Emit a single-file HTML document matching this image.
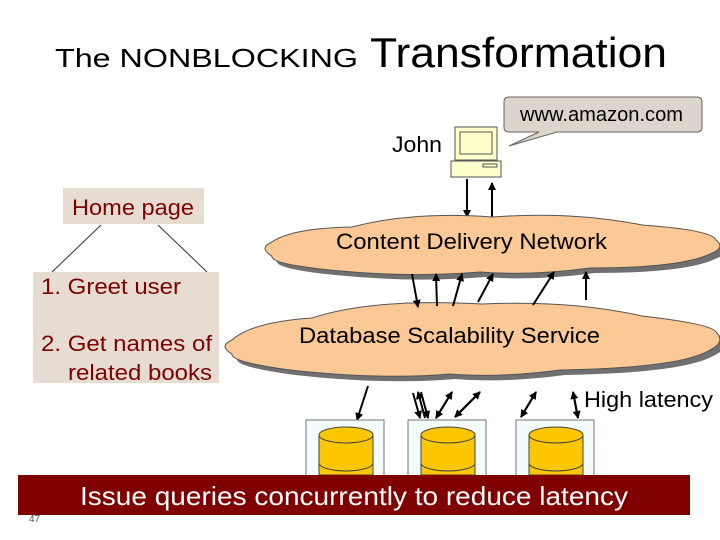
<!DOCTYPE html><html><head><meta charset="utf-8"><style>body{margin:0;background:#fff}svg{display:block;font-family:"Liberation Sans",sans-serif}</style></head><body>
<svg width="720" height="540" viewBox="0 0 720 540">
<defs><marker id="a" markerWidth="8" markerHeight="8" refX="7" refY="4" orient="auto" markerUnits="userSpaceOnUse"><path d="M0,0L8,4L0,8z" fill="#000"/></marker>
<g id="cyl"><rect x="0" y="0" width="78" height="60" fill="#f4fbfd" stroke="#777"/><path d="M13,15v40h54v-40" fill="#fcc600" stroke="#444"/><ellipse cx="40" cy="15" rx="27" ry="8" fill="#fcc600" stroke="#444"/><path d="M13,43a27,8 0 0 0 54,0" fill="none" stroke="#444"/></g></defs>
<text x="55" y="67" font-size="26" textLength="303" lengthAdjust="spacingAndGlyphs">The NONBLOCKING</text>
<text x="370" y="67" font-size="42" textLength="297" lengthAdjust="spacingAndGlyphs">Transformation</text>
<path d="M509,97h188q5,0 5,5v25q0,5-5,5h-140l-48,14l30-14h-30q-5,0-5-5v-25q0-5,5-5z" fill="#ddd4cb" stroke="#666"/>
<text x="520" y="121" font-size="20" textLength="163" lengthAdjust="spacingAndGlyphs">www.amazon.com</text>
<text x="392" y="152" font-size="22" textLength="50" lengthAdjust="spacingAndGlyphs">John</text>
<rect x="455" y="127" width="42" height="33" fill="#ffffcc" stroke="#555"/><rect x="460" y="132" width="32" height="22" fill="#ffffcc" stroke="#555"/>
<rect x="451" y="161" width="50" height="16" fill="#ffffcc" stroke="#555"/><rect x="483" y="164" width="14" height="3" fill="none" stroke="#555"/>
<line x1="467" y1="179" x2="467" y2="217" stroke="#000" stroke-width="2" marker-end="url(#a)"/>
<line x1="492" y1="217" x2="492" y2="183" stroke="#000" stroke-width="2" marker-end="url(#a)"/>
<g fill="#707070"><path d="M272,242q20-14 80-15q60-16 140-10q80-6 150 8q70 5 74 15q10 8-6 14q-30 14-120 14q-60 8-110 4q-70 6-150-2q-60-6-58-14q-14-8 0-14z" transform="translate(5,5)"/>
<path d="M232,340q20-18 80-22q60-20 170-14q90-4 160 12q70 8 74 16q10 10-6 18q-30 18-150 20q-60 8-110 4q-70 6-160-4q-60-8-58-16q-14-8 0-14z" transform="translate(5,5)"/></g>
<g fill="#fbc896" stroke="#555"><path d="M272,242q20-14 80-15q60-16 140-10q80-6 150 8q70 5 74 15q10 8-6 14q-30 14-120 14q-60 8-110 4q-70 6-150-2q-60-6-58-14q-14-8 0-14z"/>
<path d="M232,340q20-18 80-22q60-20 170-14q90-4 160 12q70 8 74 16q10 10-6 18q-30 18-150 20q-60 8-110 4q-70 6-160-4q-60-8-58-16q-14-8 0-14z"/></g>
<text x="336" y="249" font-size="22" textLength="271" lengthAdjust="spacingAndGlyphs">Content Delivery Network</text>
<text x="299" y="343" font-size="22" textLength="301" lengthAdjust="spacingAndGlyphs">Database Scalability Service</text>
<g stroke="#000" stroke-width="2" marker-end="url(#a)">
<line x1="412" y1="274" x2="418" y2="307"/><line x1="437" y1="306" x2="436" y2="274"/><line x1="453" y1="306" x2="462" y2="274"/>
<line x1="478" y1="302" x2="493" y2="274"/><line x1="533" y1="305" x2="554" y2="272"/><line x1="586" y1="300" x2="586" y2="272"/>
<line x1="368" y1="386" x2="357" y2="420"/><line x1="413" y1="393" x2="420" y2="418"/><line x1="425" y1="418" x2="418" y2="392"/>
<line x1="421" y1="392" x2="428" y2="418"/><line x1="452" y1="392" x2="436" y2="418"/><line x1="436" y1="418" x2="452" y2="392"/>
<line x1="480" y1="392" x2="455" y2="417"/><line x1="455" y1="417" x2="480" y2="392"/>
<line x1="536" y1="392" x2="521" y2="417"/><line x1="521" y1="417" x2="536" y2="392"/>
<line x1="573" y1="392" x2="578" y2="418"/><line x1="578" y1="418" x2="573" y2="392"/></g>
<text x="584" y="407" font-size="22" textLength="129" lengthAdjust="spacingAndGlyphs">High latency</text>
<use href="#cyl" x="306" y="420"/><use href="#cyl" x="408" y="420"/><use href="#cyl" x="516" y="420"/>
<rect x="63" y="188" width="141" height="36" fill="#e6dcd2"/>
<text x="72" y="215" font-size="22" fill="#800000" textLength="122" lengthAdjust="spacingAndGlyphs">Home page</text>
<line x1="101" y1="225" x2="52" y2="272" stroke="#333"/><line x1="158" y1="225" x2="207" y2="272" stroke="#333"/>
<rect x="33" y="272" width="186" height="111" fill="#e6dcd2"/>
<g font-size="22" fill="#800000" lengthAdjust="spacingAndGlyphs"><text x="41" y="294" textLength="140" lengthAdjust="spacingAndGlyphs">1. Greet user</text><text x="41" y="351" textLength="171" lengthAdjust="spacingAndGlyphs">2. Get names of</text><text x="68" y="380" textLength="144" lengthAdjust="spacingAndGlyphs">related books</text></g>
<rect x="18" y="475" width="672" height="40" fill="#800000"/>
<text x="80" y="505" font-size="26" fill="#fff" textLength="548" lengthAdjust="spacingAndGlyphs">Issue queries concurrently to reduce latency</text>
<text x="29" y="522" font-size="10" fill="#555">47</text>
</svg></body></html>
